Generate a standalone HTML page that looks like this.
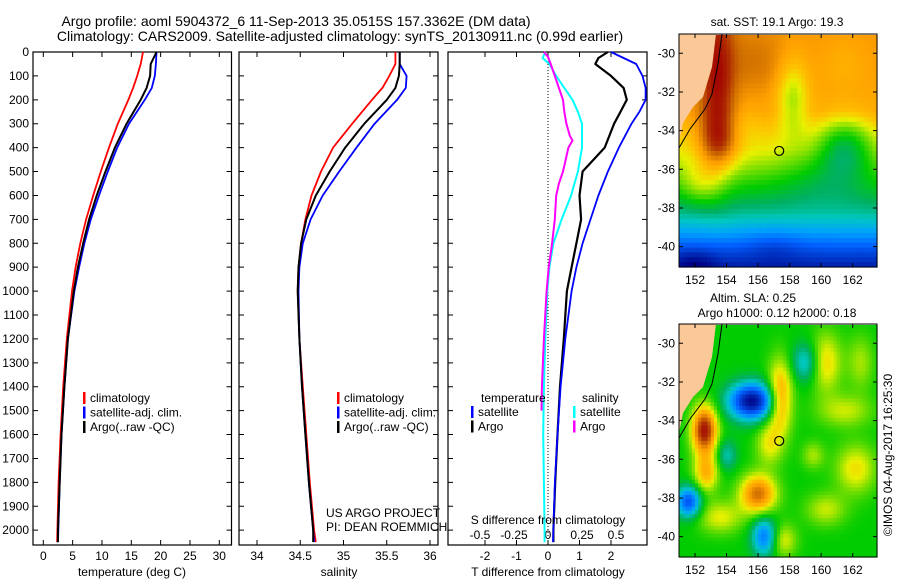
<!DOCTYPE html>
<html><head><meta charset="utf-8"><style>
html,body{margin:0;padding:0;background:#fff;}
svg{display:block;font-family:"Liberation Sans",sans-serif;}
</style></head><body>
<svg id="fig" width="900" height="580" viewBox="0 0 900 580">
<text x="296" y="26" font-size="14" text-anchor="middle">Argo profile: aoml 5904372_6 11-Sep-2013 35.0515S 157.3362E (DM data)</text>
<text x="340" y="41" font-size="14" text-anchor="middle">Climatology: CARS2009. Satellite-adjusted climatology: synTS_20130911.nc (0.99d earlier)</text>
<g id="profiles"></g>
<g id="maps"></g>
<text transform="translate(892,455) rotate(-90)" font-size="12" text-anchor="middle">©IMOS 04-Aug-2017 16:25:30</text>
</svg>
<script>
const NS="http://www.w3.org/2000/svg";
// ---- data ----
const depths=[0,50,100,150,200,300,400,500,600,700,800,900,1000,1200,1400,1600,1800,2000,2050];
const tempClim=[17,16.6,16,15.3,14.5,12.7,11.2,9.8,8.5,7.3,6.3,5.5,4.9,4.0,3.4,2.95,2.6,2.4,2.35];
const tempSat=[19.3,19.2,19.0,18.5,17.3,14.6,12.6,11,9.5,8.1,7,6.1,5.3,4.2,3.6,3.1,2.8,2.55,2.5];
const tempArgo=[19.3,18.3,18.2,17.6,16.6,14.2,12.2,10.6,9.1,7.8,6.8,5.9,5.2,4.2,3.6,3.1,2.8,2.5,2.5];
const salClim=[35.6,35.6,35.53,35.45,35.33,35.1,34.88,34.74,34.63,34.56,34.51,34.48,34.47,34.49,34.53,34.57,34.61,34.66,34.68];
const salSat=[35.65,35.65,35.73,35.72,35.62,35.36,35.15,34.95,34.76,34.62,34.53,34.49,34.48,34.49,34.52,34.56,34.6,34.65,34.66];
const salArgo=[35.65,35.65,35.64,35.6,35.5,35.24,35.02,34.84,34.68,34.57,34.51,34.48,34.47,34.49,34.52,34.56,34.6,34.65,34.65];
const depthsD=[0,25,50,100,150,200,250,300,400,500,600,700,800,900,1000,1200,1400,1600,1800,2000,2050];
const tDiffSat=[2.0,2.4,2.8,3.0,3.1,3.1,2.9,2.65,2.25,1.9,1.6,1.35,1.1,0.9,0.75,0.55,0.4,0.3,0.22,0.17,0.16];
const tDiffArgo=[1.9,1.6,1.5,2.0,2.4,2.5,2.3,2.1,1.8,1.1,1.0,1.05,0.9,0.75,0.6,0.5,0.38,0.3,0.23,0.17,0.17];
const sDiffSat=[-0.02,-0.04,0.01,0.06,0.12,0.18,0.22,0.25,0.25,0.22,0.17,0.1,0.04,0.01,-0.005,-0.02,-0.03,-0.035,-0.03,-0.025,-0.025];
const depthsM=[0,20,50,100,150,200,250,300,350,370,400,450,500,550,600,700,800,900,1000,1200,1400,1500];
const sDiffArgo=[-0.03,0.0,0.02,0.05,0.08,0.11,0.12,0.135,0.16,0.18,0.15,0.13,0.11,0.08,0.06,0.05,0.03,0.005,-0.01,-0.03,-0.045,-0.048];
const depthTicks=[0,100,200,300,400,500,600,700,800,900,1000,1100,1200,1300,1400,1500,1600,1700,1800,1900,2000];
const tempTicks=[0,5,10,15,20,25,30];
const salTicks=[34,34.5,35,35.5,36];
const tdTicks=[-2,-1,0,1,2];
const sdTicks=[-0.5,-0.25,0,0.25,0.5];
const sdTickLabels=["-0.5","-0.25","0","0.25","0.5"];

const TOP=52, BOT=545;
const yD=d=>TOP+(d/2062)*(BOT-TOP);
function lin(d0,d1,r0,r1){return v=>r0+(v-d0)/(d1-d0)*(r1-r0);}
const P1={x0:33,x1:231.5}, P2={x0:239,x1:438}, P3={x0:448,x1:647};
const xT=lin(0,30,43.3,219.3);
const xS=lin(34,36,257,430);
const xTD=lin(0,2,548,611);
const xSD=lin(0,0.5,548,616);
const G=document.getElementById('profiles');
function el(tag,attrs,parent,txt){const e=document.createElementNS(NS,tag);for(const k in attrs)e.setAttribute(k,attrs[k]);if(txt!==undefined)e.textContent=txt;(parent||G).appendChild(e);return e;}

function panel(P,name){
  const r=el('rect',{x:P.x0,y:TOP,width:P.x1-P.x0,height:BOT-TOP,fill:'none',stroke:'#000','stroke-width':1.2});
  
  
  depthTicks.forEach(d=>{
    const t=el('path',{d:`M${P.x0},${yD(d)}h5M${P.x1},${yD(d)}h-5`,stroke:'#000','stroke-width':1});
    
    
  });
}
function xticks(P,ticks,fx,labels,name,showLabels){
  ticks.forEach((v,i)=>{
    const x=fx(v);
    const t=el('path',{d:`M${x},${TOP}v5M${x},${BOT}v-5`,stroke:'#000','stroke-width':1});
    
    
    if(showLabels){
      const l=el('text',{x:x,y:560,'font-size':12,'text-anchor':'middle'},G,labels[i]);
      
      
    }
  });
}
function line(dep,vals,fx,color,w,name){
  const d=vals.map((v,i)=>(i?'L':'M')+fx(v).toFixed(1)+','+yD(dep[i]).toFixed(1)).join('');
  const p=el('path',{d:d,fill:'none',stroke:color,'stroke-width':w,'stroke-linejoin':'round'});
  
  
}
panel(P1,'temperature-panel');panel(P2,'salinity-panel');panel(P3,'difference-panel');
depthTicks.forEach(d=>{
  const l=el('text',{x:29,y:yD(d)+4,'font-size':12,'text-anchor':'end'},G,String(d));
  
  
});
xticks(P1,tempTicks,xT,tempTicks.map(String),'temperature',true);
xticks(P2,salTicks,xS,salTicks.map(String),'salinity',true);
xticks(P3,tdTicks,xTD,tdTicks.map(String),'t-difference',true);
sdTicks.forEach((v,i)=>{
  const l=el('text',{x:xSD(v),y:539,'font-size':12,'text-anchor':'middle'},G,sdTickLabels[i]);
  
  
});
const z=el('line',{x1:xTD(0),y1:TOP,x2:xTD(0),y2:BOT,stroke:'#000','stroke-dasharray':'1,2','stroke-width':1});



line(depths,tempClim,xT,'#f00',1.8,'temperature-climatology-line');
line(depths,tempSat,xT,'#00f',1.8,'temperature-satellite-line');
line(depths,tempArgo,xT,'#000',2,'temperature-argo-line');
line(depths,salClim,xS,'#f00',1.8,'salinity-climatology-line');
line(depths,salSat,xS,'#00f',1.8,'salinity-satellite-line');
line(depths,salArgo,xS,'#000',2,'salinity-argo-line');
line(depthsD,sDiffSat,xSD,'#0ff',2,'s-diff-satellite-line');
line(depthsM,sDiffArgo,xSD,'#f0f',2,'s-diff-argo-line');
line(depthsD,tDiffArgo,xTD,'#000',2.2,'t-diff-argo-line');
line(depthsD,tDiffSat,xTD,'#00f',1.8,'t-diff-satellite-line');

function legend(x,y,items,name){
  items.forEach((it,i)=>{
    const b=el('rect',{x:x,y:y+i*14.5-10,width:2.5,height:12,fill:it[0]});
    
    
    const t=el('text',{x:x+7,y:y+i*14.5,'font-size':12},G,it[1]);
    
    
  });
}
const L1=[['#f00','climatology'],['#00f','satellite-adj. clim.'],['#000','Argo(..raw -QC)']];
legend(83,402,L1,'temperature-legend');
legend(337,402,L1,'salinity-legend');
legend(471,416,[['#00f','satellite'],['#000','Argo']],'diff-temperature-legend');
legend(573,416,[['#0ff','satellite'],['#f0f','Argo']],'diff-salinity-legend');
[['temperature',481,402],['salinity',582,402]].forEach(a=>{
  const t=el('text',{x:a[1],y:a[2],'font-size':12},G,a[0]);
  
  
});
[['US ARGO PROJECT',326,517],['PI: DEAN ROEMMICH',326,531]].forEach(a=>{
  const t=el('text',{x:a[1],y:a[2],'font-size':12},G,a[0]);
  
  
});
[['temperature (deg C)',132,576],['salinity',339,576],['T difference from climatology',548,576],['S difference from climatology',548,524]].forEach(a=>{
  const t=el('text',{x:a[1],y:a[2],'font-size':12,'text-anchor':'middle'},G,a[0]);
  
  
});

// ---- maps ----
const lonTicks=[152,154,156,158,160,162];
const latTicks=[-30,-32,-34,-36,-38,-40];
const sstBaseLat=[-29,-33,-35,-36,-37,-38.2,-39.3,-40.3,-41.2];
const sstBaseVal=[0.79,0.77,0.67,0.6,0.52,0.42,0.3,0.15,0.05];
const sstBlobs=[ // lon,lat,amp,sx,sy
 [153.4,-31.5,0.2,0.75,3],[153.5,-34.6,0.14,0.9,0.9],[155.8,-30.5,0.06,1.4,1.2],[158.2,-32.3,-0.15,0.7,1.4],[155.2,-33.6,-0.03,0.8,0.8],
 [161.5,-34.8,-0.2,1.3,1.1],[160,-36.5,-0.06,2,1],[157,-40,-0.05,1.2,0.6],[152,-40.8,-0.08,1,0.5],[152.3,-36.8,0.09,0.9,0.8],[161.5,-30.5,-0.03,1,1]];
const slaBlobs=[
 [155.6,-33,-0.5,1.0,0.65],[152.6,-34.5,0.45,0.55,0.85],[156,-37.8,0.33,0.8,0.7],[157.4,-32.8,0.27,0.55,1.3],[156.7,-35.2,0.14,0.6,0.8],
 [159,-31,-0.17,0.6,0.7],[160.3,-31,0.17,0.7,1.1],[151.6,-38.2,-0.35,0.55,0.55],[156.4,-40,-0.28,0.55,0.7],[154,-35.8,-0.13,0.45,0.55],
 [162.2,-36.5,0.16,0.9,0.9],[152.7,-36.7,0.22,0.55,0.7],[153.6,-39,0.14,1.0,0.6],[161.5,-33.5,0.12,1.2,0.6],[157.6,-40.2,0.14,0.6,0.6],
 [160.3,-38.6,0.12,0.9,0.6],[159.5,-35.8,0.1,0.5,0.5],[162.5,-31,0.1,0.6,1]];
const argoLon=157.34, argoLat=-35.05;
const M=document.getElementById('maps');
const cmapPos=[0,0.1,0.2,0.3,0.38,0.45,0.52,0.6,0.66,0.72,0.78,0.85,0.92,1];
const cmapCol=[[0,0,128],[0,48,192],[0,96,255],[0,160,255],[0,200,192],[0,176,96],[0,204,0],[128,224,0],[232,240,0],[255,192,0],[255,160,0],[208,112,0],[176,48,0],[160,0,0]];
function cmap(v){v=Math.max(0,Math.min(1,v));for(let i=1;i<cmapPos.length;i++){if(v<=cmapPos[i]){const t=(v-cmapPos[i-1])/(cmapPos[i]-cmapPos[i-1]);const a=cmapCol[i-1],b=cmapCol[i];return `rgb(${Math.round(a[0]+t*(b[0]-a[0]))},${Math.round(a[1]+t*(b[1]-a[1]))},${Math.round(a[2]+t*(b[2]-a[2]))})`;}}return 'rgb(160,0,0)';}
function sstBase(lat){for(let i=1;i<sstBaseLat.length;i++){if(lat>=sstBaseLat[i]){const t=(lat-sstBaseLat[i-1])/(sstBaseLat[i]-sstBaseLat[i-1]);return sstBaseVal[i-1]+t*(sstBaseVal[i]-sstBaseVal[i-1]);}}return sstBaseVal[sstBaseVal.length-1];}
function field(blobs,base,lon,lat){let v=base(lat);blobs.forEach(b=>{v+=b[2]*Math.exp(-((lon-b[0])**2/(2*b[3]*b[3])+(lat-b[1])**2/(2*b[4]*b[4])));});return v;}
function drawMap(y0,y1,blobs,base,name,cell){
  const x0=679,x1=877;
  const xL=lin(152,162,695,852.7), yL=lin(-30,-40,y0+19.3,y0+19.3+193.3);
  const lonMin=151.0,lonMax=163.6,latMax=-29.05,latMin=-41.1;
  const g=document.createElementNS(NS,'g');M.appendChild(g);
  
  
  for(let lon=lonMin;lon<lonMax;lon+=cell){for(let lat=latMax;lat>latMin;lat-=cell){
    const v=field(blobs,base,lon+cell/2,lat-cell/2);
    const xa=Math.max(x0,xL(lon)),xb=Math.min(x1,xL(lon+cell)),ya=Math.max(y0,yL(lat)),yb=Math.min(y1,yL(lat-cell));
    if(xb<=xa||yb<=ya)continue;
    const r=el('rect',{x:xa.toFixed(1),y:ya.toFixed(1),width:(xb-xa+0.6).toFixed(1),height:(yb-ya+0.6).toFixed(1),fill:cmap(v)},g);
    
    
  }}
  const land=el('path',{d:`M${x0},${y0}H716L712,${y0+33}L703,${y0+63}L693,${y0+73}L683,${y0+89}L679,${y0+109}Z`,fill:'#fbc898'},g);
  
  
  const iso=el('path',{d:`M722,${y0}L718,${y0+30}L712,${y0+60}L705,${y0+75}L690,${y0+95}L679,${y0+114}`,fill:'none',stroke:'#000','stroke-width':1},g);
  
  
  const c=el('circle',{cx:xL(argoLon),cy:yL(argoLat),r:4.5,fill:'none',stroke:'#000','stroke-width':1.2},g);
  
  
  const f=el('rect',{x:x0,y:y0,width:x1-x0,height:y1-y0,fill:'none',stroke:'#000','stroke-width':1},g);
  
  
  lonTicks.forEach(l=>{
    const x=xL(l);
    const t=el('path',{d:`M${x},${y0}v4M${x},${y1}v-4`,stroke:'#000'},g);
    
    
    const s=el('text',{x:x,y:y1+17,'font-size':12,'text-anchor':'middle'},g,String(l));
    
    
  });
  latTicks.forEach(l=>{
    const y=yL(l);
    const t=el('path',{d:`M${x0},${y}h4M${x1},${y}h-4`,stroke:'#000'},g);
    
    
    const s=el('text',{x:675,y:y+4,'font-size':12,'text-anchor':'end'},g,String(l));
    
    
  });
}
drawMap(34,267,sstBlobs,sstBase,'sst-map',0.25);
drawMap(324,557,slaBlobs,()=>0.52,'sla-map',0.2);
[['sat. SST: 19.1  Argo: 19.3',777,26],['Altim. SLA: 0.25',753,302],['Argo h1000: 0.12 h2000: 0.18',777,317]].forEach(a=>{
  const t=el('text',{x:a[1],y:a[2],'font-size':12,'text-anchor':'middle'},M,a[0]);
  
  
});
</script>
</body></html>
